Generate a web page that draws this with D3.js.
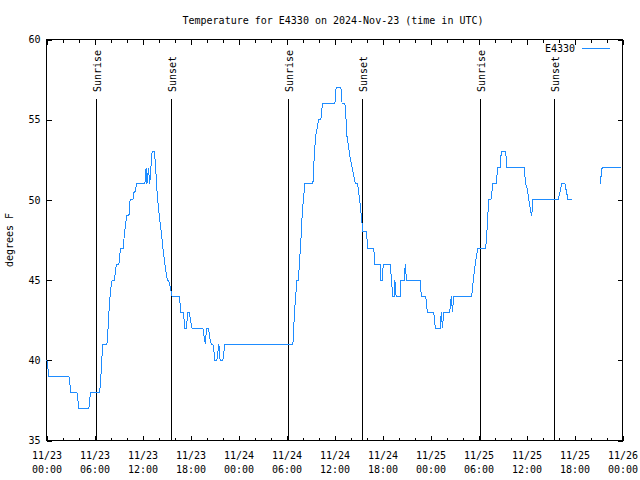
<!DOCTYPE html>
<html><head><meta charset="utf-8">
<script src="https://cdn.jsdelivr.net/npm/d3@7"></script>
<style>
body{margin:0;background:#fff}
svg{display:block}
text{font-family:"DejaVu Sans Mono","Liberation Mono",monospace;font-size:10px;fill:#000}
</style>
</head><body><svg id="c" width="640" height="480"></svg>
<script>
const chartTitle = "Temperature for E4330 on 2024-Nov-23 (time in UTC)";
const seriesName = "E4330";
const yLabel = "degrees F";
// hours since 2024-11-23 00:00 UTC; null marks a gap in the record
const obsHours = [0.05,0.3,2.8,3.05,3.8,4.05,5.3,5.5,6.65,6.8,6.9,7.05,7.55,7.7,7.8,7.95,8.05,8.2,8.5,8.6,8.75,9.05,9.25,9.6,9.75,9.9,10.0,10.3,10.45,10.8,10.95,11.1,11.25,12.3,12.45,12.55,12.75,12.9,13.05,13.2,13.5,13.65,13.75,13.9,14.1,14.35,14.55,14.8,15.1,15.25,15.45,15.7,16.6,16.8,17.1,17.3,17.5,17.65,17.85,18.0,18.2,19.55,19.7,19.85,20.0,20.25,20.45,20.6,20.8,20.95,21.05,21.3,21.55,21.7,22.05,22.3,30.8,30.9,31.0,31.15,31.3,31.5,31.6,31.75,31.85,31.95,32.1,32.3,33.3,33.4,33.5,33.65,33.85,34.0,34.3,34.5,36.05,36.2,36.8,36.95,37.3,37.45,37.55,37.7,37.85,38.0,38.2,38.4,38.6,38.9,39.0,39.15,39.35,39.55,40.0,40.15,40.9,41.05,41.7,41.8,41.95,42.1,43.0,43.1,43.3,43.45,43.55,43.7,44.2,44.3,44.7,44.85,45.0,46.7,46.85,47.4,47.6,48.4,48.6,49.2,49.35,49.5,49.65,50.4,50.6,50.75,50.9,53.15,53.35,53.6,53.9,54.9,55.05,55.15,55.3,55.55,55.8,56.2,56.4,56.7,56.85,57.4,57.55,59.7,59.9,60.1,60.3,60.45,60.65,60.8,63.95,64.2,64.4,64.8,65.0,65.2,65.7,67.5,69.2,69.45,71.75];
const obsTempF = [40,39,39,38,38,37,37,38,38,39,40,41,41,42,43,44,44.5,45,45,45.5,46,46,47,47,48,48.5,49,49,50,50,50.5,50.5,51,51,52,51,52,51,52,53,53,52,51,50,49,48,47,46,45,45,44.6,44,44,43,43,42,42,43,43,42.5,42,42,41.5,41,42,42,41.3,41,41,40.5,40,40,41,40,40,41,41,42,43,44,45,45,46,47,48,49,50,51,51,52,53,54,54.5,55,55,56,56,57,57,56,56,55,54,53.5,53,52.5,52,51.5,51,51,50.5,50,49,48,48,47,47,46,46,45,45,46,46,45,44,44,45,44,44,45,45,46,45,45,44,44,43,43,42,42,43,42,43,43,44,43,44,44,45,46,47,47,48,49,50,50,51,51,52,52,53,53,52,52,51,50.7,50,49.5,49,50,50,50.5,51,51,50.5,50,50,null,51,52,52];
const sunHours = [6.25, 15.625, 30.25, 39.5, 54.25, 63.5];
const sunLabels = ["Sunrise","Sunset","Sunrise","Sunset","Sunrise","Sunset"];
const yTicks = [35,40,45,50,55,60];
const xMajorHours = [0,6,12,18,24,30,36,42,48,54,60,66,72];
const xMinorHours = d3.range(0, 73, 2);

const START = Date.UTC(2024,10,23);
const toDate = h => new Date(START + h*3600000);
const data = obsHours.map((h,i) => ({d: toDate(h), t: obsTempF[i]}));

const svg = d3.select("#c");
const L = 46.5, R = 622.5, T = 39.5, B = 440.5;
const x = d3.scaleUtc().domain([toDate(0), toDate(72)]).range([L, R]);
const y = d3.scaleLinear().domain([35, 60]).range([B, T]);
const fmtDay = d3.utcFormat("%m/%d"), fmtTime = d3.utcFormat("%H:%M");

// minor x ticks (bottom + top)
const minorDates = xMinorHours.filter(h => h % 6 !== 0).map(toDate);
svg.append("g").attr("transform",`translate(0,${B})`)
  .call(d3.axisBottom(x).tickValues(minorDates).tickSize(-3).tickFormat(""))
  .call(g => g.select(".domain").remove());
svg.append("g").attr("transform",`translate(0,${T})`)
  .call(d3.axisTop(x).tickValues(minorDates).tickSize(-3).tickFormat(""))
  .call(g => g.select(".domain").remove());

// major x ticks
const majorDates = xMajorHours.map(toDate);
const xb = svg.append("g").attr("transform",`translate(0,${B})`)
  .call(d3.axisBottom(x).tickValues(majorDates).tickSize(-5))
  .call(g => g.select(".domain").remove());
xb.selectAll(".tick text").each(function(d){
  const t = d3.select(this).text(null).attr("y", 0).attr("dy", null);
  t.append("tspan").attr("x", 0).attr("y", 18.5).text(fmtDay(d));
  t.append("tspan").attr("x", 0).attr("y", 32.5).text(fmtTime(d));
});
svg.append("g").attr("transform",`translate(0,${T})`)
  .call(d3.axisTop(x).tickValues(majorDates).tickSize(-5).tickFormat(""))
  .call(g => g.select(".domain").remove());

// y ticks
const yl = svg.append("g").attr("transform",`translate(${L},0)`)
  .call(d3.axisLeft(y).tickValues(yTicks).tickSize(-5).tickPadding(7))
  .call(g => g.select(".domain").remove());
yl.selectAll(".tick text").attr("x", -6);
svg.append("g").attr("transform",`translate(${R},0)`)
  .call(d3.axisRight(y).tickValues(yTicks).tickSize(-5).tickFormat(""))
  .call(g => g.select(".domain").remove());

svg.selectAll(".tick line").attr("stroke","#000").attr("shape-rendering","crispEdges");
svg.selectAll(".tick text").attr("fill","#000").style("font-family",'"DejaVu Sans Mono","Liberation Mono",monospace').style("font-size","10px");

// border
svg.append("rect").attr("x",L).attr("y",T).attr("width",R-L).attr("height",B-T)
  .attr("fill","none").attr("stroke","#000").attr("shape-rendering","crispEdges");

// sunrise / sunset lines
const sun = svg.append("g");
sunHours.forEach((h,i) => {
  const sx = Math.floor(x(toDate(h))) + 0.5;
  sun.append("line").attr("x1",sx).attr("x2",sx).attr("y1",99).attr("y2",B)
    .attr("stroke","#000").attr("shape-rendering","crispEdges");
  sun.append("text").attr("transform",`translate(${sx+4},92) rotate(-90)`)
    .attr("text-anchor","start").text(sunLabels[i]);
});

// temperature line
const line = d3.line().defined(p => p.t != null).x(p => x(p.d)).y(p => y(p.t));
svg.append("path").datum(data).attr("d", line)
  .attr("fill","none").attr("stroke","#1e8cff").attr("stroke-width",1)
  .attr("shape-rendering","crispEdges");

// title
svg.append("text").attr("x",333).attr("y",24).attr("text-anchor","middle").text(chartTitle);
// y label
svg.append("text").attr("transform","translate(13,240) rotate(-90)").attr("text-anchor","middle").text(yLabel);
// legend
svg.append("text").attr("x",575).attr("y",52).attr("text-anchor","end").text(seriesName);
svg.append("line").attr("x1",582).attr("x2",610).attr("y1",48.5).attr("y2",48.5)
  .attr("stroke","#1e8cff").attr("shape-rendering","crispEdges");
</script>
</body></html>
